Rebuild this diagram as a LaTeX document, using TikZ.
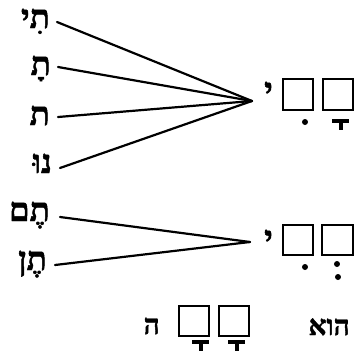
\documentclass[tikz,border=0pt]{standalone}
\usepackage{fontspec}
\newfontfamily\heb[Script=Hebrew,BoldFont={Liberation Serif Bold},BoldFeatures={FakeBold=1.5}]{Liberation Serif}
\TeXXeTstate=1
\tikzset{
  lab/.style={font=\heb\bfseries\fontsize{33}{33}\selectfont, inner sep=0pt, anchor=base east},
  smalllab/.style={font=\heb\bfseries\fontsize{28}{28}\selectfont, inner sep=0pt, anchor=base east},
  conn/.style={line width=2.2pt, line cap=round},
  slot/.style={draw, line width=1.8pt, minimum size=30.5pt, inner sep=0pt},
  vdot/.style={fill, circle, inner sep=0pt, minimum size=6pt},
  qamats/.style={fill},
}
\newcommand{\qam}[2]{% centre x, top y
  \fill[qamats] (#1-8.5,#2) rectangle (#1+8.5,#2+3.5);
  \fill[qamats] (#1-2.2,#2+3) rectangle (#1+2.2,#2+11);
}
\begin{document}
\begin{tikzpicture}[x=1pt,y=-1pt]
\useasboundingbox (0,0) rectangle (360,351);
% top group
\node[lab] (l1) at (50,28) {\beginR תִי\endR};
\node[lab] (l2) at (51,75) {\beginR תָ\endR};
\node[lab] (l3) at (50,125) {\beginR ת\endR};
\node[lab] (l4) at (52,173) {\beginR נוּ\endR};
\coordinate (c1) at (252,101);
\draw[conn] ([shift={(7pt,6pt)}]l1.base east) -- (c1);
\draw[conn] ([shift={(7pt,8pt)}]l2.base east) -- (c1);
\draw[conn] ([shift={(8pt,8pt)}]l3.base east) -- (c1);
\draw[conn] ([shift={(8pt,5pt)}]l4.base east) -- (c1);
\node[lab] (y1) at (273,101) {\beginR י\endR};
\node[slot] (s1) at (298,94.5) {};
\node[slot] (s2) at (338,94.5) {};
\node[vdot] (d1) at (305,122) {};
\qam{341}{119}
% middle group
\node[lab] (l5) at (50,221) {\beginR תֶם\endR};
\node[lab] (l6) at (47,270) {\beginR תֶן\endR};
\coordinate (c2) at (250,242);
\draw[conn] ([shift={(10pt,4pt)}]l5.base east) -- (c2);
\draw[conn] ([shift={(8pt,5pt)}]l6.base east) -- (c2);
\node[lab] (y2) at (273,249) {\beginR י\endR};
\node[slot] (s3) at (298,240) {};
\node[slot] (s4) at (337.5,240) {};
\node[vdot] (d2) at (305,267) {};
\node[vdot] (d3) at (337,264) {};
\node[vdot] (d4) at (338,277) {};
% bottom row
\node[smalllab] (h1) at (160,334) {\beginR ה\endR};
\node[slot] (s5) at (194,321) {};
\node[slot] (s6) at (234,321) {};
\qam{201}{340}
\qam{237}{340}
\node[smalllab] (hu) at (350,335) {\beginR הוא\endR};
\end{tikzpicture}
\end{document}
